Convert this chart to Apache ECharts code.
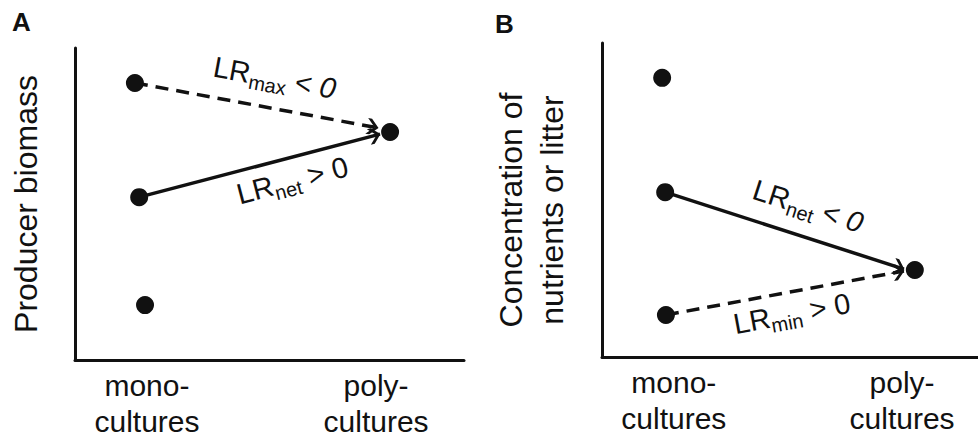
<!DOCTYPE html>
<html>
<head>
<meta charset="utf-8">
<title>LR diagram</title>
<script src="https://cdn.jsdelivr.net/npm/echarts@6/dist/echarts.min.js"></script>
</head>
<body style="margin:0">
<div id="main" style="width:978px;height:439px"></div>
<script>
var ink = '#111';
var font = 'Liberation Sans, Arial, sans-serif';

// x axis tick labels and their places on the 0..100 axis
var tickNames = ['mono-\ncultures', 'poly-\ncultures'];
var tickPosA = [18.5, 77.4];
var tickPosB = [19.1, 79.8];

// panel A: producer biomass
var monoA = [[15.4, 88.8], [16.5, 52.2], [18.0, 17.6]];
var polyA = [[81.0, 73.1]];
var maxLineA = [[15.4, 88.8], [77.9, 74.4]];
var netLineA = [[16.5, 52.2], [78.4, 72.4]];

// panel B: nutrients or litter
var monoB = [[16.0, 88.9], [16.8, 52.5], [17.0, 13.4]];
var polyB = [[83.2, 27.7]];
var netLineB = [[16.8, 52.5], [80.3, 28.0]];
var minLineB = [[17.0, 13.4], [80.3, 27.4]];

// arrow labels: main text, subscript, relation
var textMaxA = ['LR', 'max', ' < ', '0'];
var textNetA = ['LR', 'net', ' > 0', ''];
var textNetB = ['LR', 'net', ' < ', '0'];
var textMinB = ['LR', 'min', ' > 0', ''];

var chevron = 'path://M8,-1L8.01,-1L8,-0.99Z M8,10L16,18L16,22L8,14L0,22L0,18Z';

function rich(t) {
    return '{m|' + t[0] + '}{s|' + t[1] + '}{m|' + t[2] + '}' + (t[3] ? '{i|' + t[3] + '}' : '');
}

var richStyle = {
    m: { fontSize: 29, color: ink, fontFamily: font },
    i: { fontSize: 29, color: ink, fontFamily: font, fontStyle: 'italic' },
    s: { fontSize: 20, color: ink, fontFamily: font, padding: [17, 0, 0, 0] }
};

function arrowItem(coords, dashed, text, pos, dist, shift) {
    return {
        coords: coords,
        lineStyle: { type: dashed ? [13, 8] : 'solid' },
        label: {
            show: true,
            position: pos,
            distance: dist,
            formatter: rich(text),
            padding: [0, 0, 0, shift],
            rich: richStyle
        }
    };
}

function xAxisFor(idx, ticks) {
    return {
        gridIndex: idx, type: 'value', min: 0, max: 100,
        splitLine: { show: false },
        axisTick: { show: false },
        axisLine: { show: true, lineStyle: { color: ink, width: 3 } },
        axisLabel: {
            customValues: ticks,
            margin: 7,
            fontSize: 30, lineHeight: 36,
            color: ink, fontFamily: font,
            formatter: function (v) {
                return tickNames[ticks.indexOf(v)];
            }
        }
    };
}

function yAxisFor(idx, name, gap, lh, pad) {
    return {
        gridIndex: idx, type: 'value', min: 0, max: 100,
        name: name, nameLocation: 'middle', nameRotate: 90, nameGap: gap,
        nameTextStyle: { fontSize: 32, color: ink, fontFamily: font, lineHeight: lh, padding: pad },
        splitLine: { show: false },
        axisTick: { show: false },
        axisLabel: { show: false },
        axisLine: { show: true, lineStyle: { color: ink, width: 3 } }
    };
}

function dots(idx, data) {
    return {
        type: 'scatter', xAxisIndex: idx, yAxisIndex: idx,
        data: data, symbolSize: 18, z: 4,
        itemStyle: { color: ink, opacity: 1 }
    };
}

function arrows(idx, items) {
    return {
        type: 'lines', coordinateSystem: 'cartesian2d',
        xAxisIndex: idx, yAxisIndex: idx, z: 3,
        symbol: ['none', chevron],
        symbolSize: [0, [16, 23]],
        lineStyle: { color: ink, width: 3.5, opacity: 1 },
        data: items
    };
}

var chart = echarts.init(document.getElementById('main'), null, { renderer: 'svg' });
chart.setOption({
    animation: false,
    backgroundColor: '#fff',
    textStyle: { fontFamily: font },
    title: [
        { text: 'A', left: 12, top: 9, padding: 0, textStyle: { fontSize: 26, fontWeight: 'bold', color: ink, fontFamily: font } },
        { text: 'B', left: 495, top: 11, padding: 0, textStyle: { fontSize: 26, fontWeight: 'bold', color: ink, fontFamily: font } }
    ],
    grid: [
        { left: 75, top: 48, width: 389, height: 312, containLabel: false, outerBoundsMode: 'none' },
        { left: 602, top: 43, width: 376, height: 314, containLabel: false, outerBoundsMode: 'none' }
    ],
    xAxis: [xAxisFor(0, tickPosA), xAxisFor(1, tickPosB)],
    yAxis: [
        yAxisFor(0, 'Producer biomass', 31, 36, 0),
        yAxisFor(1, 'Concentration of\nnutrients or litter', 30, 41, [0, 20, 0, 0])
    ],
    series: [
        arrows(0, [
            arrowItem(maxLineA, true, textMaxA, 'insideMiddleTop', 12, 26),
            arrowItem(netLineA, false, textNetA, 'insideMiddleBottom', 4, 56)
        ]),
        dots(0, monoA.concat(polyA)),
        arrows(1, [
            arrowItem(netLineB, false, textNetB, 'insideMiddleTop', 12, 30),
            arrowItem(minLineB, true, textMinB, 'insideMiddleBottom', 3, 6)
        ]),
        dots(1, monoB.concat(polyB))
    ]
});
</script>
</body>
</html>
